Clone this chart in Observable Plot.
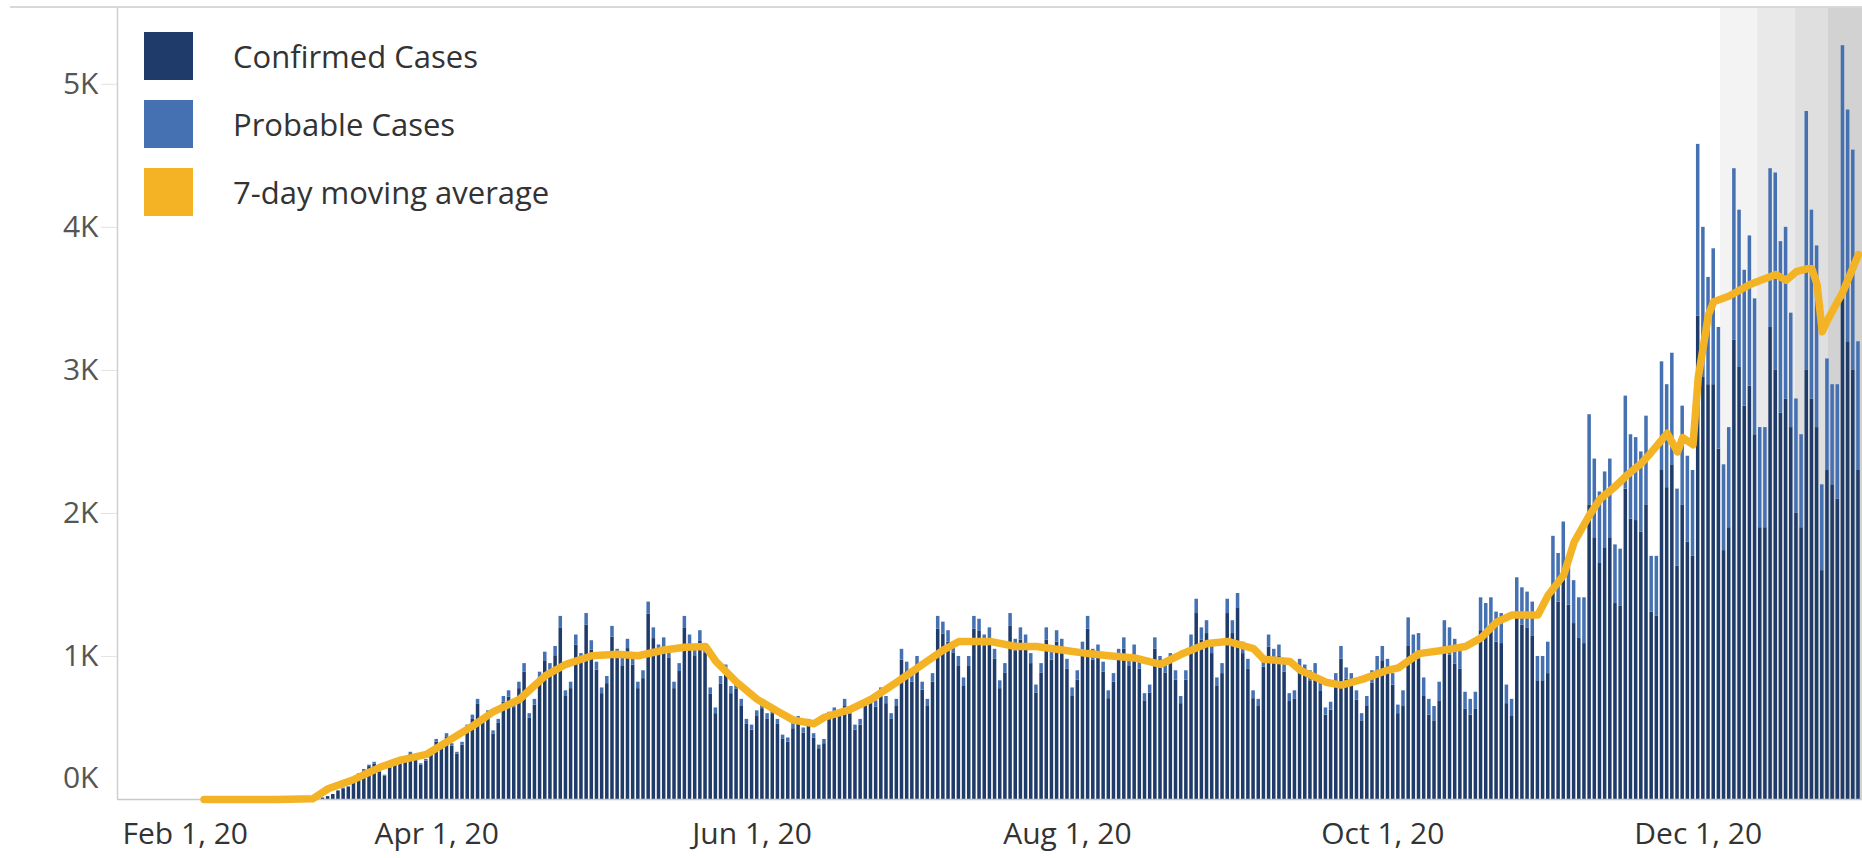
<!DOCTYPE html>
<html><head><meta charset="utf-8">
<script src="https://cdn.jsdelivr.net/npm/d3@7"></script>
<script src="https://cdn.jsdelivr.net/npm/@observablehq/plot@0.6"></script>
<style>
html,body{margin:0;padding:0;background:#fff;}
#wrap{position:relative;width:1862px;height:858px;overflow:hidden;font-family:"Open Sans",sans-serif;}
#chart{position:absolute;left:0;top:0;}
#topline{position:absolute;left:10px;top:6px;width:1852px;height:2px;background:#d8d8d8;}
#legend{position:absolute;left:144px;top:22px;}
.item{display:flex;align-items:center;height:68px;}
.sw{width:49px;height:48px;margin-right:40px;}
.lab{font-size:31px;color:#333;white-space:nowrap;}
</style></head><body>
<div id="wrap"><div id="chart"></div><div id="topline"></div><div id="legend"></div></div>
<script>
// ---- data (daily, starting 2020-03-09) ----
const startDate = "2020-03-09";
const confirmed = [
 5,10,20,35,60,75,85,
 135,172,200,230,248,192,164,
 220,268,250,286,315,278,240,
 268,335,400,362,438,372,316,
 380,495,560,665,532,590,458,
 532,680,715,642,775,890,570,
 660,840,970,895,1005,1200,720,
 775,1080,960,1220,1045,905,740,
 810,1135,990,935,1055,940,775,
 845,1295,1125,1015,1060,990,775,
 895,1200,1080,1005,1105,1025,735,
 600,805,880,740,770,655,525,
 485,580,635,560,600,525,420,
 400,495,540,465,525,430,355,
 390,570,595,580,650,595,485,
 520,650,670,645,725,670,560,
 650,975,895,820,930,765,650,
 820,1190,1155,1100,1025,930,790,
 930,1190,1175,1070,1115,980,775,
 885,1210,1040,1115,1070,950,745,
 885,1115,975,1100,1040,910,725,
 835,1020,1190,975,1005,890,705,
 820,975,1050,930,1005,910,690,
 745,1050,930,885,950,835,670,
 835,1070,1300,1115,1160,1020,790,
 880,1300,1160,1340,1020,910,705,
 650,925,1065,970,1000,890,685,
 700,900,865,830,875,755,590,
 625,805,980,840,805,695,550,
 655,815,905,970,890,800,600,
 650,1070,970,980,720,590,550,
 690,1050,1010,945,910,630,590,
 630,1180,1150,1180,1100,1090,670,
 580,1280,1220,1200,1140,830,830,
 880,1470,1380,1550,1360,1230,1130,
 1090,2060,1830,1650,1760,1830,1370,
 1350,2170,1960,1950,1870,2060,1310,
 1280,2300,2180,2340,1630,2060,1800,
 1700,3380,2950,2900,2900,2450,1740,
 1900,3210,3020,2750,2890,2550,1900,
 1900,3300,3000,2700,2800,2600,2000,
 1900,3000,2800,2600,1600,2300,2200,
 2100,3500,3200,3000,2300
];
const probable = [
 0,0,0,0,0,5,5,
 5,8,10,10,12,8,6,
 10,12,10,14,15,12,10,
 12,15,20,18,22,18,14,
 20,25,30,35,28,30,22,
 28,40,45,38,45,60,30,
 40,50,60,55,65,80,40,
 45,70,60,80,65,55,40,
 50,75,60,55,65,60,45,
 55,85,75,65,70,60,45,
 55,80,70,65,75,65,45,
 40,55,60,50,50,45,35,
 35,40,45,40,40,35,30,
 30,35,40,35,35,30,25,
 30,40,45,40,50,45,35,
 40,50,50,45,55,50,40,
 50,75,65,60,70,55,50,
 60,90,85,80,75,70,60,
 70,90,85,80,85,70,55,
 65,90,80,85,80,70,55,
 65,85,75,80,80,70,55,
 65,80,90,75,75,70,55,
 60,75,80,70,75,70,50,
 55,80,70,65,70,65,50,
 65,80,100,85,90,80,60,
 70,100,90,100,80,70,55,
 50,75,85,80,80,70,55,
 60,80,75,70,75,65,50,
 55,75,90,80,75,65,50,
 65,85,95,100,90,80,60,
 110,200,180,180,130,110,100,
 130,200,190,175,170,120,110,
 120,230,220,230,210,210,130,
 120,270,260,250,240,170,170,
 220,370,340,390,340,300,280,
 320,630,550,500,530,550,410,
 400,650,590,580,560,620,390,
 420,760,720,780,540,690,600,
 600,1200,1050,750,950,850,600,
 700,1200,1100,950,1050,950,700,
 700,1110,1380,1200,1200,800,800,
 650,1810,1320,1270,600,780,700,
 800,1770,1620,1540,900
];
const maDates = ["2020-02-16","2020-03-01","2020-03-08","2020-03-11","2020-03-16","2020-03-21","2020-03-25","2020-03-30",
 "2020-04-03","2020-04-08","2020-04-12","2020-04-17","2020-04-22","2020-04-26","2020-05-01","2020-05-06","2020-05-10",
 "2020-05-15","2020-05-19","2020-05-23","2020-05-25","2020-05-29","2020-06-02","2020-06-06","2020-06-09","2020-06-13",
 "2020-06-15","2020-06-20","2020-06-24","2020-06-29","2020-07-03","2020-07-08","2020-07-11","2020-07-17","2020-07-22",
 "2020-07-26","2020-07-31","2020-08-05","2020-08-09","2020-08-14","2020-08-19","2020-08-23","2020-08-28","2020-09-01",
 "2020-09-06","2020-09-08","2020-09-13","2020-09-15","2020-09-20","2020-09-23","2020-09-27","2020-10-02","2020-10-04",
 "2020-10-08","2020-10-12","2020-10-17","2020-10-20","2020-10-23","2020-10-26","2020-10-31","2020-11-02","2020-11-05",
 "2020-11-07","2020-11-10","2020-11-12","2020-11-15","2020-11-17","2020-11-20","2020-11-22","2020-11-25","2020-11-27",
 "2020-11-28","2020-11-30","2020-12-01","2020-12-03","2020-12-04","2020-12-07","2020-12-11","2020-12-16","2020-12-18",
 "2020-12-20","2020-12-22","2020-12-23","2020-12-24","2020-12-25","2020-12-26","2020-12-29","2021-01-01"];
const maValues = [0,0,5,75,140,225,275,315,
 405,515,615,700,865,945,1005,1015,1005,
 1045,1065,1070,965,820,700,615,555,530,
 575,630,700,820,920,1045,1105,1105,1070,
 1070,1045,1020,1005,990,945,1015,1090,1105,
 1055,980,965,905,820,800,840,905,920,
 1020,1040,1070,1130,1240,1290,1290,1430,1570,
 1800,1990,2100,2190,2260,2350,2430,2560,2430,
 2530,2480,2950,3390,3480,3520,3600,3670,3630,
 3690,3710,3710,3600,3270,3350,3550,3810];
const bandStarts = ["2020-12-05T07:00Z","2020-12-12T12:00Z","2020-12-19T19:00Z","2020-12-26T05:00Z"];
const bandFills = ["#f3f3f3","#e9e9e9","#dfdfdf","#d2d2d2"];
const yTicks = [1000,2000,3000,4000,5000];
const yTickLabels = ["1K","2K","3K","4K","5K"];
const xTickDates = ["2020-02-01","2020-04-01","2020-06-01","2020-08-01","2020-10-01","2020-12-01"];
const xTickLabels = ["Feb 1, 20","Apr 1, 20","Jun 1, 20","Aug 1, 20","Oct 1, 20","Dec 1, 20"];
const seriesNames = ["Confirmed Cases","Probable Cases","7-day moving average"];
const seriesColors = ["#1f3b69","#4571b2","#f4b324"];

// ---- build ----
const DAY = 864e5;
const t0 = Date.parse(startDate + "T00:00Z");
const rows = confirmed.map((c, i) => ({date: new Date(t0 + i * DAY), conf: c, prob: probable[i]}));
const ma = maDates.map((d, i) => ({date: new Date(d + "T00:00Z"), value: maValues[i]}));
const feb1 = Date.parse("2020-02-01T00:00Z");
const xDomain = [new Date(feb1 - 1.74 * DAY), new Date(feb1 + 335.78 * DAY)];
const yMax = 5530;
const bands = bandStarts.map((s, i) => ({start: new Date(s), end: i < bandStarts.length - 1 ? new Date(bandStarts[i + 1]) : xDomain[1], fill: bandFills[i]}));
const xt = xTickDates.map((d, i) => ({date: new Date(d + "T00:00Z"), label: xTickLabels[i]}));
const HW = 0.34 * DAY;

const plot = Plot.plot({
  width: 1862, height: 858,
  marginLeft: 117, marginRight: 0, marginTop: 8, marginBottom: 59,
  style: {fontFamily: '"Open Sans", sans-serif', background: "transparent", overflow: "visible"},
  x: {type: "utc", domain: xDomain, axis: null},
  y: {domain: [0, yMax], axis: null},
  color: {type: "identity"},
  marks: [
    Plot.rect(bands, {x1: "start", x2: "end", y1: 0, y2: yMax, fill: "fill"}),
    Plot.rect(rows, {x1: d => new Date(+d.date - HW), x2: d => new Date(+d.date + HW), y1: 0, y2: "conf", fill: seriesColors[0]}),
    Plot.rect(rows, {x1: d => new Date(+d.date - HW), x2: d => new Date(+d.date + HW), y1: "conf", y2: d => d.conf + d.prob, fill: seriesColors[1]}),
    Plot.ruleY([0], {stroke: "#c9c9c9", strokeWidth: 1.5}),
    Plot.ruleX([xDomain[0]], {stroke: "#d0d0d0", strokeWidth: 1.5}),
    Plot.line(ma, {x: "date", y: "value", stroke: seriesColors[2], strokeWidth: 7.5, strokeLinejoin: "round", strokeLinecap: "round"}),
    Plot.axisY(yTicks, {tickSize: 16, tickPadding: 3, stroke: "#e2e2e2", fill: "#555", fontSize: 30, tickFormat: (d) => yTickLabels[yTicks.indexOf(d)]}),
    Plot.text([0], {y: d => d, text: () => "0K", frameAnchor: "left", textAnchor: "end", dx: -19, dy: -21, fontSize: 30, fill: "#555"}),
    Plot.text(xt.slice(0, 1), {x: "date", text: "label", frameAnchor: "bottom", textAnchor: "start", dx: -4, dy: 44, fontSize: 30, fill: "#333"}),
    Plot.text(xt.slice(1), {x: "date", text: "label", frameAnchor: "bottom", dy: 44, fontSize: 30, fill: "#333"})
  ]
});
document.getElementById("chart").appendChild(plot);

const leg = document.getElementById("legend");
seriesNames.forEach((n, i) => {
  const it = document.createElement("div"); it.className = "item";
  const sw = document.createElement("div"); sw.className = "sw"; sw.style.background = seriesColors[i];
  const lb = document.createElement("div"); lb.className = "lab"; lb.textContent = n;
  it.appendChild(sw); it.appendChild(lb); leg.appendChild(it);
});
</script>
</body></html>
